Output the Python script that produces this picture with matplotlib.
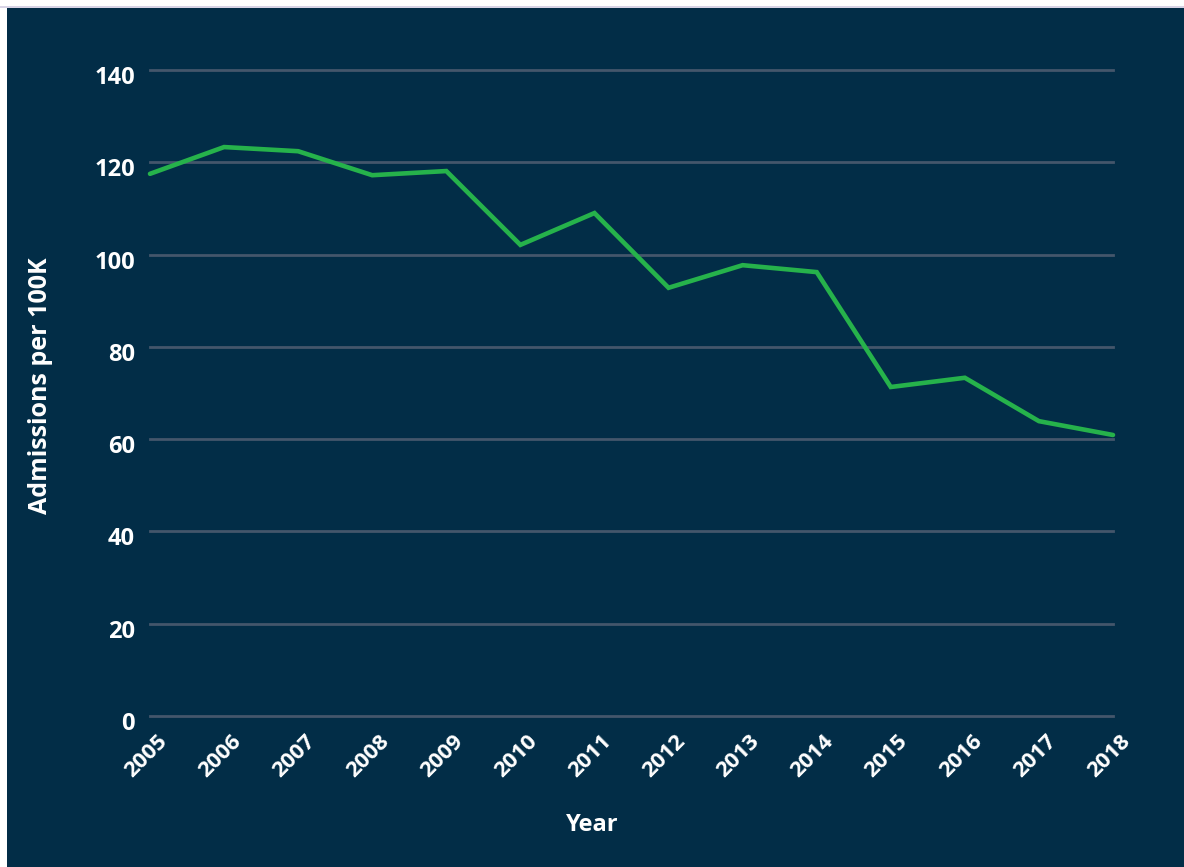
import matplotlib
matplotlib.use("Agg")
import matplotlib.pyplot as plt
from matplotlib.transforms import offset_copy
from matplotlib.patches import Rectangle

years = ["2005", "2006", "2007", "2008", "2009", "2010", "2011",
         "2012", "2013", "2014", "2015", "2016", "2017", "2018"]
admissions = [117.5, 123.3, 122.4, 117.2, 118.1, 102.1, 109.0,
              92.8, 97.7, 96.2, 71.3, 73.3, 63.9, 60.9]
yticks = [0, 20, 40, 60, 80, 100, 120, 140]

BG = "#022D47"
GRID = "#44566B"
GREEN = "#26B24B"
FONT = ['Open Sans', 'DejaVu Sans']

plt.rcParams['font.family'] = FONT

fig = plt.figure(figsize=(11.84, 8.67), dpi=100, facecolor="white")
fig.patches.append(Rectangle((7/1184, 0), 1 - 7/1184, 1 - 8/867,
                             transform=fig.transFigure, facecolor=BG,
                             edgecolor="none", zorder=-10))
fig.patches.append(Rectangle((0, 1 - 7.5/867), 1, 1.2/867,
                             transform=fig.transFigure, facecolor="#D8D4E6",
                             edgecolor="none", zorder=-10))

ax = fig.add_axes([150/1184, 1 - 716/867, (1113 - 150)/1184, (716 - 70)/867])
ax.set_facecolor("none")

x = list(range(len(years)))
ax.plot(x, admissions, color=GREEN, lw=3.3, solid_joinstyle="miter",
        solid_capstyle="round", zorder=3, clip_on=False)

ax.set_xlim(0, len(years) - 1)
ax.set_ylim(0, 140)
ax.set_xticks([])
ax.set_yticks([])
for s in ax.spines.values():
    s.set_visible(False)

for v in yticks:
    ax.axhline(v, color=GRID, lw=2, zorder=1, clip_on=False)

# y tick labels (slightly below gridlines)
ytr = offset_copy(ax.get_yaxis_transform(), fig=fig, x=-15, y=-8, units="dots")
for v in yticks:
    ax.text(0, v, str(v), transform=ytr, ha="right", va="center",
            fontsize=17, fontweight="bold", color="white")

# x tick labels, rotated
xtr = offset_copy(ax.get_xaxis_transform(), fig=fig, x=-4, y=-15, units="dots")
for i, yr in enumerate(years):
    ax.text(i, 0, yr, transform=xtr, ha="center", va="top", rotation=45,
            fontsize=16, fontweight="bold", color="white")

fig.text(41/1184, 1 - 386/867, "Admissions per 100K", rotation=90,
         ha="center", va="center", fontsize=18, fontweight="bold", color="white")
fig.text(592/1184, 1 - 825/867, "Year", ha="center", va="center",
         fontsize=17, fontweight="bold", color="white")

fig.savefig("out.png", dpi=100, facecolor=fig.get_facecolor())
